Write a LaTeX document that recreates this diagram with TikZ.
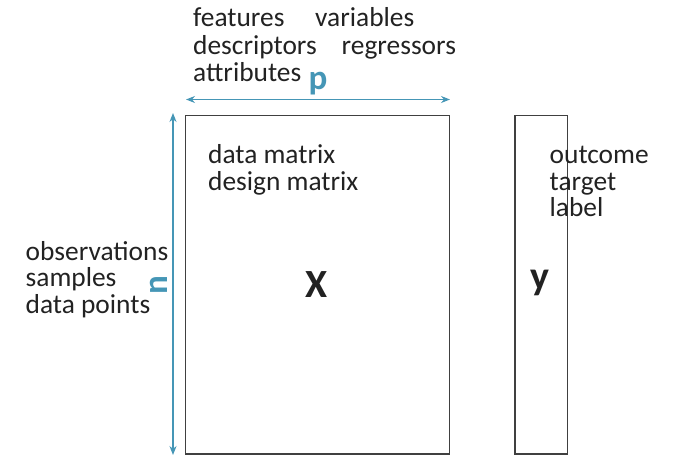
\documentclass[tikz,border=0pt]{standalone}
\usepackage{fontspec}
\setmainfont{Carlito}
\usetikzlibrary{arrows.meta}
\definecolor{teal1}{HTML}{4596B6}
\definecolor{boxgray}{HTML}{404040}
\definecolor{txt}{HTML}{222222}
\tikzset{
  lbl/.style={anchor=base west, inner sep=0pt, text=txt, font=\fontsize{27.4}{27}\selectfont},
  big/.style={anchor=center, inner sep=0pt, text=txt, font=\fontsize{40}{40}\selectfont\bfseries},
  dimlbl/.style={inner sep=0pt, text=teal1, font=\fontsize{35}{35}\selectfont\bfseries},
  matbox/.style={draw=boxgray, line width=1.3pt},
  dimarrow/.style={draw=teal1, line width=1.4pt, {Stealth[length=9pt,width=7pt]}-{Stealth[length=9pt,width=7pt]}}
}
\begin{document}
\begin{tikzpicture}[x=1pt,y=-1pt]
\useasboundingbox (0,0) rectangle (689,466);
% matrices
\draw[matbox] (185.5,115.5) rectangle (449.5,454);
\node[big] (X) at (317,285) {X};
\draw[matbox] (515,115.5) rectangle (567.5,454);
\node[big] (y) at (540,283) {y};
% dimension arrows
\coordinate (pl) at (186,99.5);
\coordinate (pr) at (450,99.5);
\draw[dimarrow] (pl) -- (pr);
\node[dimlbl, anchor=base] (p) at (318,89) {p};
\coordinate (nt) at (173,113);
\coordinate (nb) at (173,455);
\draw[dimarrow] (nt) -- (nb);
\node[dimlbl, rotate=90, anchor=base] (n) at (167,285) {n};
% top labels
\node[lbl] (features) at (193,26.5) {features};
\node[lbl] (variables) at (315,26.5) {variables};
\node[lbl] (descriptors) at (193,54.5) {descriptors};
\node[lbl] (regressors) at (341.5,54.5) {regressors};
\node[lbl] (attributes) at (193,81.5) {attributes};
% left labels
\node[lbl] (obs) at (25.5,260) {observations};
\node[lbl] (samples) at (25.5,286.5) {samples};
\node[lbl] (dp) at (25.5,313) {data points};
% inside X
\node[lbl] (dm) at (208,163.5) {data matrix};
\node[lbl] (desm) at (208,190) {design matrix};
% y labels
\node[lbl] (outcome) at (549.5,163.5) {outcome};
\node[lbl] (target) at (549.5,190) {target};
\node[lbl] (label) at (549.5,216.5) {label};
\end{tikzpicture}
\end{document}
